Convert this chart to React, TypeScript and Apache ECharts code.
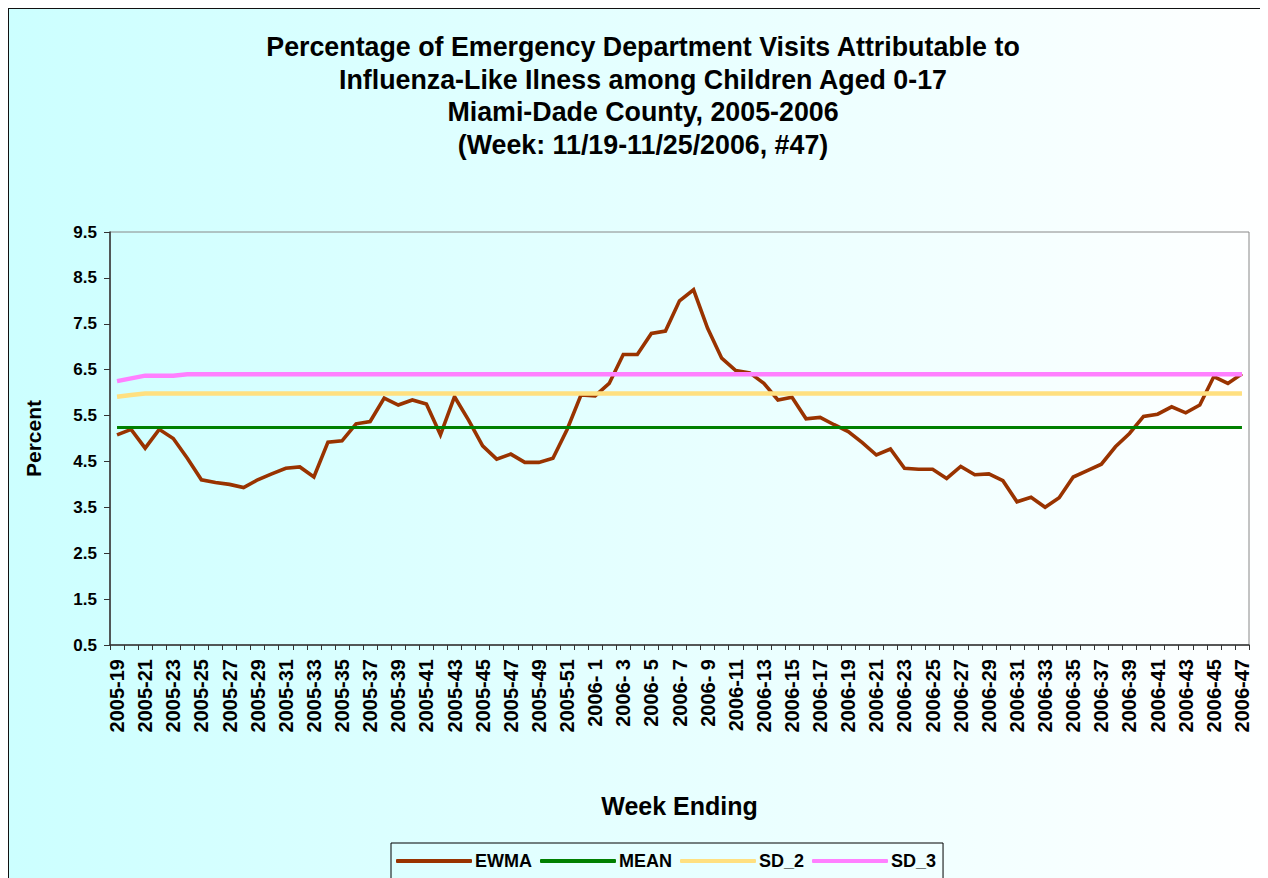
import React, { useEffect, useRef } from "react";
import * as echarts from "echarts";

const titleLines = [
  "Percentage of Emergency Department Visits Attributable to",
  "Influenza-Like Ilness among Children Aged 0-17",
  "Miami-Dade County, 2005-2006",
  "(Week: 11/19-11/25/2006, #47)",
];

const weeks = [
  "2005-19", "2005-20", "2005-21", "2005-22", "2005-23", "2005-24", "2005-25", "2005-26", "2005-27", "2005-28",
  "2005-29", "2005-30", "2005-31", "2005-32", "2005-33", "2005-34", "2005-35", "2005-36", "2005-37", "2005-38",
  "2005-39", "2005-40", "2005-41", "2005-42", "2005-43", "2005-44", "2005-45", "2005-46", "2005-47", "2005-48",
  "2005-49", "2005-50", "2005-51", "2005-52",
  "2006- 1", "2006- 2", "2006- 3", "2006- 4", "2006- 5", "2006- 6", "2006- 7", "2006- 8", "2006- 9", "2006-10",
  "2006-11", "2006-12", "2006-13", "2006-14", "2006-15", "2006-16", "2006-17", "2006-18", "2006-19", "2006-20",
  "2006-21", "2006-22", "2006-23", "2006-24", "2006-25", "2006-26", "2006-27", "2006-28", "2006-29", "2006-30",
  "2006-31", "2006-32", "2006-33", "2006-34", "2006-35", "2006-36", "2006-37", "2006-38", "2006-39", "2006-40",
  "2006-41", "2006-42", "2006-43", "2006-44", "2006-45", "2006-46", "2006-47",
];

const ewma = [
  5.08, 5.2, 4.79, 5.2, 5.0, 4.57, 4.1, 4.04, 4.0, 3.93,
  4.1, 4.23, 4.35, 4.38, 4.16, 4.92, 4.95, 5.32, 5.37, 5.88,
  5.73, 5.84, 5.75, 5.08, 5.91, 5.4, 4.84, 4.55, 4.66, 4.48,
  4.48, 4.57, 5.19, 5.95,
  5.93, 6.2, 6.83, 6.83, 7.29, 7.34, 8.0, 8.24, 7.4, 6.75,
  6.48, 6.43, 6.2, 5.84, 5.9, 5.43, 5.46, 5.3, 5.15, 4.91,
  4.64, 4.77, 4.35, 4.33, 4.33, 4.13, 4.39, 4.21, 4.23, 4.08,
  3.62, 3.72, 3.5, 3.71, 4.16, 4.3, 4.44, 4.82, 5.11, 5.48,
  5.53, 5.69, 5.56, 5.73, 6.35, 6.2, 6.41,
];

const mean = [
  5.24, 5.24, 5.24, 5.24, 5.24, 5.24, 5.24, 5.24, 5.24, 5.24,
  5.24, 5.24, 5.24, 5.24, 5.24, 5.24, 5.24, 5.24, 5.24, 5.24,
  5.24, 5.24, 5.24, 5.24, 5.24, 5.24, 5.24, 5.24, 5.24, 5.24,
  5.24, 5.24, 5.24, 5.24,
  5.24, 5.24, 5.24, 5.24, 5.24, 5.24, 5.24, 5.24, 5.24, 5.24,
  5.24, 5.24, 5.24, 5.24, 5.24, 5.24, 5.24, 5.24, 5.24, 5.24,
  5.24, 5.24, 5.24, 5.24, 5.24, 5.24, 5.24, 5.24, 5.24, 5.24,
  5.24, 5.24, 5.24, 5.24, 5.24, 5.24, 5.24, 5.24, 5.24, 5.24,
  5.24, 5.24, 5.24, 5.24, 5.24, 5.24, 5.24,
];

const sd2 = [
  5.91, 5.95, 5.98, 5.98, 5.98, 5.98, 5.98, 5.98, 5.98, 5.98,
  5.98, 5.98, 5.98, 5.98, 5.98, 5.98, 5.98, 5.98, 5.98, 5.98,
  5.98, 5.98, 5.98, 5.98, 5.98, 5.98, 5.98, 5.98, 5.98, 5.98,
  5.98, 5.98, 5.98, 5.98,
  5.98, 5.98, 5.98, 5.98, 5.98, 5.98, 5.98, 5.98, 5.98, 5.98,
  5.98, 5.98, 5.98, 5.98, 5.98, 5.98, 5.98, 5.98, 5.98, 5.98,
  5.98, 5.98, 5.98, 5.98, 5.98, 5.98, 5.98, 5.98, 5.98, 5.98,
  5.98, 5.98, 5.98, 5.98, 5.98, 5.98, 5.98, 5.98, 5.98, 5.98,
  5.98, 5.98, 5.98, 5.98, 5.98, 5.98, 5.98,
];

const sd3 = [
  6.25, 6.31, 6.37, 6.37, 6.37, 6.4, 6.4, 6.4, 6.4, 6.4,
  6.4, 6.4, 6.4, 6.4, 6.4, 6.4, 6.4, 6.4, 6.4, 6.4,
  6.4, 6.4, 6.4, 6.4, 6.4, 6.4, 6.4, 6.4, 6.4, 6.4,
  6.4, 6.4, 6.4, 6.4,
  6.4, 6.4, 6.4, 6.4, 6.4, 6.4, 6.4, 6.4, 6.4, 6.4,
  6.4, 6.4, 6.4, 6.4, 6.4, 6.4, 6.4, 6.4, 6.4, 6.4,
  6.4, 6.4, 6.4, 6.4, 6.4, 6.4, 6.4, 6.4, 6.4, 6.4,
  6.4, 6.4, 6.4, 6.4, 6.4, 6.4, 6.4, 6.4, 6.4, 6.4,
  6.4, 6.4, 6.4, 6.4, 6.4, 6.4, 6.4,
];

const FONT = "'Liberation Sans', Arial, Helvetica, sans-serif";

export default function App() {
  const ref = useRef<HTMLDivElement>(null);

  useEffect(() => {
    document.body.style.overflow = "hidden";
    if (!ref.current) return;
    const chart = echarts.init(ref.current, null, { renderer: "svg" });
    const lineSeries = (name: string, data: number[], color: string, width: number) => ({
      name,
      type: "line",
      data,
      symbol: "none",
      showSymbol: false,
      lineStyle: { color, width, join: "miter" },
      itemStyle: { color },
      emphasis: { disabled: true },
    });
    chart.setOption({
      animation: false,
      backgroundColor: {
        type: "linear",
        x: 0,
        y: 0,
        x2: 1,
        y2: 0,
        colorStops: [
          { offset: 0, color: "#CCFFFF" },
          { offset: 1, color: "#FFFFFF" },
        ],
      },
      title: {
        text: titleLines.join("\n"),
        left: "center",
        top: 22,
        padding: [0, 0, 0, 8],
        textStyle: {
          fontFamily: FONT,
          fontWeight: "bold",
          fontSize: 26.8,
          lineHeight: 32.5,
          color: "#000",
        },
      },
      legend: {
        left: 382,
        top: 834,
        itemWidth: 76,
        itemHeight: 4,
        itemGap: 8,
        padding: [9, 7, 9, 5],
        borderColor: "#000",
        borderWidth: 1,
        icon: "roundRect",
        textStyle: { fontFamily: FONT, fontWeight: "bold", fontSize: 18, color: "#000", padding: [0, 0, 0, -2] },
        data: ["EWMA", "MEAN", "SD_2", "SD_3"],
      },
      grid: {
        left: 101,
        top: 223,
        right: 28,
        bottom: 242,
        show: true,
        borderColor: "#888",
        borderWidth: 1,
        backgroundColor: "transparent",
        containLabel: false,
      },
      xAxis: {
        type: "category",
        data: weeks,
        boundaryGap: true,
        name: "Week Ending",
        nameLocation: "middle",
        nameGap: 148,
        nameTextStyle: { fontFamily: FONT, fontWeight: "bold", fontSize: 25, color: "#000" },
        axisLine: { lineStyle: { color: "#333", width: 1.5 } },
        axisTick: { show: true, interval: 0, length: 5, lineStyle: { color: "#333", width: 1 } },
        axisLabel: {
          interval: 1,
          rotate: 90,
          margin: 14,
          fontFamily: FONT,
          fontWeight: "bold",
          fontSize: 20,
          color: "#000",
        },
        splitLine: { show: false },
      },
      yAxis: {
        type: "value",
        min: 0.5,
        max: 9.5,
        interval: 1,
        name: "Percent",
        nameLocation: "middle",
        nameGap: 66,
        nameTextStyle: { fontFamily: FONT, fontWeight: "bold", fontSize: 21, color: "#000" },
        axisLine: { show: true, lineStyle: { color: "#333", width: 1.5 } },
        axisTick: { show: true, length: 6, lineStyle: { color: "#333", width: 1 } },
        axisLabel: {
          margin: 13,
          fontFamily: FONT,
          fontWeight: "bold",
          fontSize: 17,
          color: "#000",
          formatter: (v: number) => v.toFixed(1),
        },
        splitLine: { show: false },
      },
      series: [
        lineSeries("EWMA", ewma, "#993300", 3.6),
        lineSeries("MEAN", mean, "#008000", 3),
        lineSeries("SD_2", sd2, "#FFE080", 4.5),
        lineSeries("SD_3", sd3, "#FF80FF", 4.5),
      ],
    });
    return () => chart.dispose();
  }, []);

  return (
    <div
      style={{
        border: "2px solid #111",
        marginLeft: -1,
        marginTop: -1,
        width: 1268,
        height: 878,
      }}
    >
      <div ref={ref} style={{ width: 1268, height: 878 }} />
    </div>
  );
}
